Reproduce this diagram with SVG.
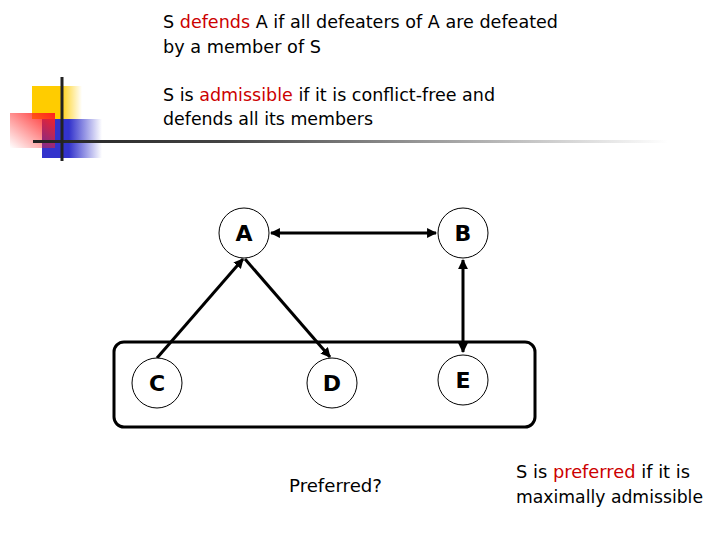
<svg xmlns="http://www.w3.org/2000/svg" width="720" height="540" viewBox="0 0 720 540">
<style>
.t{font-family:"DejaVu Sans","Liberation Sans",sans-serif;font-size:18px;fill:#000}
.r{fill:#cc0000}
.n{fill:#fff;stroke:#000;stroke-width:1}
.lbl{font-family:"DejaVu Sans","Liberation Sans",sans-serif;font-size:22px;font-weight:bold;fill:#000;text-anchor:middle}
.e{stroke:#000;stroke-width:3;fill:none}
</style>
<defs>
<marker id="ah" viewBox="0 0 10 10" refX="9" refY="5" markerWidth="3.300" markerHeight="3.300" orient="auto-start-reverse" markerUnits="strokeWidth">
<path d="M0,0 L10,5 L0,10 z" fill="#000"/>
</marker>
<linearGradient id="gy" x1="0" y1="0" x2="1" y2="0">
<stop offset="0" stop-color="#ffcc00"/><stop offset="0.55" stop-color="#ffcc00"/><stop offset="1" stop-color="#ffcc00" stop-opacity="0"/>
</linearGradient>
<linearGradient id="gb" x1="0" y1="0" x2="1" y2="0">
<stop offset="0" stop-color="#3333cc"/><stop offset="0.45" stop-color="#3333cc"/><stop offset="1" stop-color="#3333cc" stop-opacity="0"/>
</linearGradient>
<linearGradient id="gr" x1="1" y1="0" x2="0" y2="1">
<stop offset="0" stop-color="#ff2020"/><stop offset="1" stop-color="#ff2020" stop-opacity="0"/>
</linearGradient>
<linearGradient id="gl" x1="0" y1="0" x2="1" y2="0">
<stop offset="0" stop-color="#222"/><stop offset="0.3" stop-color="#444"/><stop offset="1" stop-color="#444" stop-opacity="0"/>
</linearGradient>
</defs>
<rect width="720" height="540" fill="#fff"/>
<g id="decor">
<rect x="32" y="86" width="50" height="33" fill="url(#gy)"/>
<rect x="42" y="119" width="60" height="39" fill="url(#gb)"/>
<rect x="10" y="113" width="45" height="35" fill="url(#gr)"/>
<rect x="33" y="140" width="635" height="3" fill="url(#gl)"/>
<rect x="60.500" y="77" width="3" height="84" fill="#222"/>
</g>
<g id="text">
<text class="t" x="163" y="28" textLength="395" lengthAdjust="spacingAndGlyphs">S <tspan class="r">defends</tspan> A if all defeaters of A are defeated</text>
<text class="t" x="163" y="53" textLength="158" lengthAdjust="spacingAndGlyphs">by a member of S</text>
<text class="t" x="163" y="101" textLength="332" lengthAdjust="spacingAndGlyphs">S is <tspan class="r">admissible</tspan> if it is conflict-free and</text>
<text class="t" x="163" y="125" textLength="210" lengthAdjust="spacingAndGlyphs">defends all its members</text>
<text class="t" x="289" y="492" textLength="93" lengthAdjust="spacingAndGlyphs">Preferred?</text>
<text class="t" x="516" y="478" textLength="174" lengthAdjust="spacingAndGlyphs">S is <tspan class="r">preferred</tspan> if it is</text>
<text class="t" x="516" y="503" textLength="187" lengthAdjust="spacingAndGlyphs">maximally admissible</text>
</g>
<g id="set">
<rect x="114" y="342" width="421" height="85" rx="10" ry="10" fill="none" stroke="#000" stroke-width="3"/>
</g>
<g id="connectors">
<line class="e" x1="271" y1="233" x2="436" y2="233" marker-start="url(#ah)" marker-end="url(#ah)"/>
<line class="e" x1="463" y1="260" x2="463" y2="352" marker-start="url(#ah)" marker-end="url(#ah)"/>
<line class="e" x1="157" y1="358" x2="243" y2="259" marker-end="url(#ah)"/>
<line class="e" x1="245" y1="259" x2="330" y2="357" marker-end="url(#ah)"/>
</g>
<g id="node-A"><circle class="n" cx="244" cy="233" r="25"/><text class="lbl" x="244" y="241">A</text></g>
<g id="node-B"><circle class="n" cx="463" cy="233" r="25"/><text class="lbl" x="463" y="241">B</text></g>
<g id="node-C"><circle class="n" cx="157" cy="383" r="25"/><text class="lbl" x="157" y="391">C</text></g>
<g id="node-D"><circle class="n" cx="332" cy="383" r="25"/><text class="lbl" x="332" y="391">D</text></g>
<g id="node-E"><circle class="n" cx="463" cy="380" r="25"/><text class="lbl" x="463" y="388">E</text></g>
</svg>
